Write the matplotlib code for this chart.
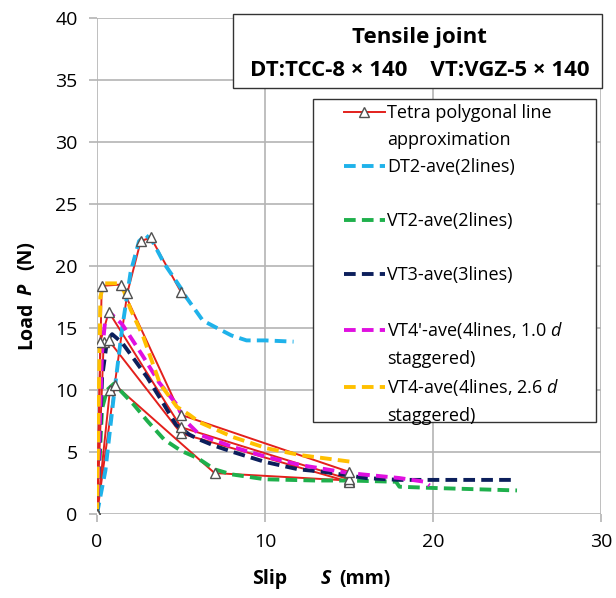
import matplotlib.pyplot as plt
from matplotlib.lines import Line2D
from matplotlib.patches import Rectangle

plt.rcParams['font.family'] = ['Open Sans', 'DejaVu Sans']
plt.rcParams['mathtext.fontset'] = 'custom'
plt.rcParams['mathtext.it'] = 'Open Sans:italic'
plt.rcParams['mathtext.rm'] = 'Open Sans'

# Measured average curves (slip mm, load)
dt2_x = [0, 0.5, 1.0, 1.5, 2.0, 2.5, 2.9, 3.3, 4.0, 5.0, 5.3, 6.3, 7.0, 8.0, 8.9, 10.0, 11.7]
dt2_y = [0, 3.5, 9.5, 15.0, 19.5, 22.0, 22.5, 22.0, 20.2, 18.2, 17.5, 15.6, 15.1, 14.4, 14.0, 14.0, 13.9]

vt2_x = [0, 0.3, 0.6, 1.0, 1.5, 2.2, 3.0, 4.0, 5.0, 6.0, 7.0, 8.0, 10.0, 13.0, 15.0, 17.8, 18.0, 20.0, 25.0]
vt2_y = [0, 8.5, 10.0, 10.5, 9.8, 8.8, 7.5, 6.0, 5.1, 4.5, 3.6, 3.2, 2.8, 2.7, 2.7, 2.6, 2.2, 2.1, 1.9]

vt3_x = [0, 0.3, 0.6, 0.9, 1.5, 2.2, 3.0, 4.0, 4.7, 5.5, 6.1, 7.0, 8.1, 10.0, 12.0, 13.5, 15.0, 16.0, 18.0, 25.0]
vt3_y = [0, 11.0, 14.0, 14.5, 13.8, 12.5, 11.0, 8.8, 7.2, 6.4, 6.0, 5.5, 5.0, 4.2, 3.6, 3.4, 3.1, 2.9, 2.75, 2.75]

vt4p_x = [0, 0.3, 0.5, 0.8, 1.5, 2.7, 3.7, 4.7, 5.2, 6.1, 8.1, 10.1, 12.1, 15.0, 18.0, 19.5, 19.8]
vt4p_y = [0, 13.0, 15.8, 16.2, 15.3, 12.8, 10.6, 8.9, 7.6, 6.4, 5.4, 4.6, 3.95, 3.3, 2.9, 2.6, 2.3]

vt4_x = [0, 0.2, 0.4, 1.2, 1.6, 2.0, 2.75, 3.75, 4.75, 5.5, 6.1, 8.1, 10.1, 12.1, 15.2]
vt4_y = [0, 17.5, 18.6, 18.6, 18.0, 16.5, 14.3, 10.5, 8.65, 8.0, 7.4, 6.2, 5.3, 4.75, 4.2]

# Tetra polygonal line approximations
tetra_x = [
    [0, 1.8, 2.6, 3.2, 5.0],
    [0, 0.77, 1.07, 7.0, 15.0],
    [0, 0.4, 0.7, 5.0, 15.0],
    [0, 0.2, 0.7, 5.0, 15.0],
    [0, 0.28, 1.4, 5.0, 15.0],
]
tetra_y = [
    [0, 17.8, 22.0, 22.3, 17.9],
    [0, 10.0, 10.4, 3.3, 2.7],
    [0, 13.9, 14.0, 6.5, 2.6],
    [0, 13.9, 16.3, 7.0, 2.8],
    [0, 18.4, 18.5, 8.0, 3.4],
]

curves = [
    (dt2_x, dt2_y, '#1fb2ea', 'DT2-ave(2lines)'),
    (vt2_x, vt2_y, '#1fb04c', 'VT2-ave(2lines)'),
    (vt3_x, vt3_y, '#0c1f5c', 'VT3-ave(3lines)'),
    (vt4p_x, vt4p_y, '#e010e0', "VT4'-ave(4lines, 1.0 $d$"),
    (vt4_x, vt4_y, '#ffc000', 'VT4-ave(4lines, 2.6 $d$'),
]
red = '#e3201c'

fig = plt.figure(figsize=(6.16, 5.98), dpi=100)
ax = fig.add_axes([97 / 616, 84 / 598, 504 / 616, 496 / 598])

for tx, ty in zip(tetra_x, tetra_y):
    ax.plot(tx, ty, color=red, lw=1.4, zorder=2)

handles = []
for x, y, c, lab in curves:
    h, = ax.plot(x, y, color=c, lw=2.8, ls=(0, (3, 1.6)), zorder=3)
    handles.append(h)

for tx, ty in zip(tetra_x, tetra_y):
    ax.plot(tx, ty, ls='none', marker='^', ms=7, mfc='white', mec='#505050', mew=1, zorder=4)

ax.set_xlim(0, 30)
ax.set_ylim(0, 40)
ax.set_xticks([0, 10, 20, 30])
ax.set_yticks(range(0, 41, 5))
ax.grid(True, color='#b4b4b4', lw=1.2)
ax.set_axisbelow(True)
for s in ax.spines.values():
    s.set_visible(False)
ax.tick_params(axis='both', labelsize=14, color='#b4b4b4', length=6, width=1.2, pad=8)

# legend frame drawn by hand, legend rows one per text line
ax.add_patch(Rectangle((313 / 616, 1 - 422 / 598), 283 / 616, 323 / 598, transform=fig.transFigure,
                       facecolor='white', edgecolor='#333333', lw=1.0, zorder=4.9, clip_on=False))
blank = Line2D([], [], ls='none')
tetra_h = Line2D([], [], color=red, lw=1.4, marker='^', ms=7, mfc='white', mec='#505050', mew=1)
leg_h = [tetra_h, blank, handles[0], blank, handles[1], blank, handles[2], blank,
         handles[3], blank, handles[4], blank]
leg_l = ['Tetra polygonal line', 'approximation', curves[0][3], ' ', curves[1][3], ' ',
         curves[2][3], ' ', curves[3][3], 'staggered)', curves[4][3], 'staggered)']
leg = ax.legend(leg_h, leg_l, loc='upper left', bbox_to_anchor=(344 / 616, 1 - 104 / 598),
                bbox_transform=fig.transFigure, borderaxespad=0, borderpad=0, fontsize=13,
                labelspacing=0.5, handlelength=2.27, handletextpad=0.1, frameon=False)
leg.set_zorder(5)

# title box
fig.add_artist(Rectangle((233 / 616, 1 - 88 / 598), 369 / 616, 74 / 598, transform=fig.transFigure,
                         facecolor='white', edgecolor='#333333', lw=1.0, zorder=5))
fig.text(419 / 616, 1 - 37 / 598, 'Tensile joint', ha='center', va='center',
         fontsize=16, fontweight='bold', zorder=6)
fig.text(420 / 616, 1 - 70 / 598, 'DT:TCC-8 × 140    VT:VGZ-5 × 140', ha='center', va='center',
         fontsize=16, fontweight='bold', zorder=6)

# axis labels
fig.text(270 / 616, 1 - 579 / 598, 'Slip', ha='center', va='center', fontsize=14, fontweight='bold')
fig.text(326 / 616, 1 - 579 / 598, 'S', ha='center', va='center', fontsize=14, fontweight='bold', style='italic')
fig.text(365 / 616, 1 - 579 / 598, '(mm)', ha='center', va='center', fontsize=14, fontweight='bold')
fig.text(26 / 616, 1 - 325 / 598, 'Load', ha='center', va='center', fontsize=14, fontweight='bold', rotation=90)
fig.text(26 / 616, 1 - 289 / 598, 'P', ha='center', va='center', fontsize=14, fontweight='bold', style='italic', rotation=90)
fig.text(26 / 616, 1 - 256 / 598, '(N)', ha='center', va='center', fontsize=14, fontweight='bold', rotation=90)

fig.savefig('out.png', dpi=100)
